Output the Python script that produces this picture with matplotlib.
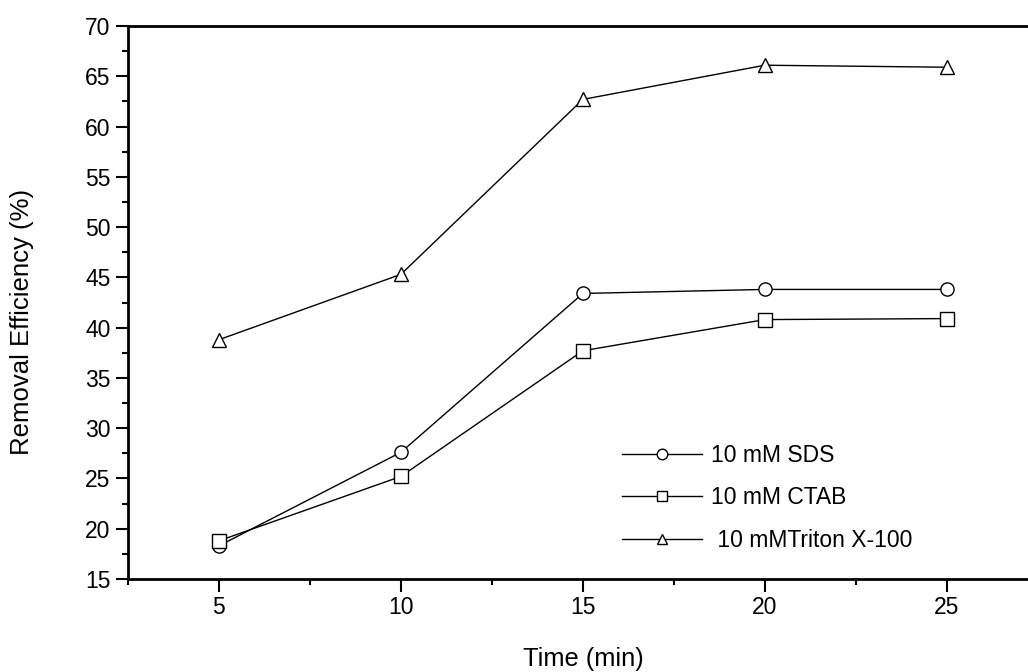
import matplotlib.pyplot as plt
from matplotlib.ticker import MultipleLocator

time_min = [5, 10, 15, 20, 25]
sds = [18.3, 27.6, 43.4, 43.8, 43.8]
ctab = [18.8, 25.2, 37.7, 40.8, 40.9]
triton = [38.8, 45.3, 62.7, 66.1, 65.9]

plt.rcParams['font.family'] = ['Liberation Sans', 'DejaVu Sans']

fig = plt.figure(figsize=(10.28, 6.72), dpi=100)
ax = fig.add_axes([0.1245, 0.1384, 0.885, 0.8229])

style = dict(color='black', lw=1, markersize=9.5, mfc='white', mec='black', mew=1)
ax.plot(time_min, sds, marker='o', label='10 mM SDS', **style)
ax.plot(time_min, ctab, marker='s', label='10 mM CTAB', **style)
ax.plot(time_min, triton, marker='^', label=' 10 mMTriton X-100', **style)

ax.set_xlim(2.5, 27.5)
ax.set_ylim(15, 70)
ax.xaxis.set_major_locator(MultipleLocator(5))
ax.xaxis.set_minor_locator(MultipleLocator(2.5))
ax.yaxis.set_major_locator(MultipleLocator(5))
ax.yaxis.set_minor_locator(MultipleLocator(2.5))
ax.tick_params(which='major', direction='out', length=9, width=1.5, labelsize=16.5)
ax.tick_params(which='minor', direction='out', length=4.5, width=1.5)
for s in ax.spines.values():
    s.set_linewidth(2)

ax.set_xlabel('Time (min)', fontsize=18.3, labelpad=20)
ax.set_ylabel('Removal Efficiency (%)', fontsize=18.5)
ax.yaxis.set_label_coords(-0.103, 0.465)

ax.legend(loc='lower left', bbox_to_anchor=(0.52, 0.012), frameon=False,
          fontsize=16.5, handlelength=3.5, labelspacing=0.85, handletextpad=0.4,
          markerscale=0.8)

fig.savefig('out.png', dpi=100)
